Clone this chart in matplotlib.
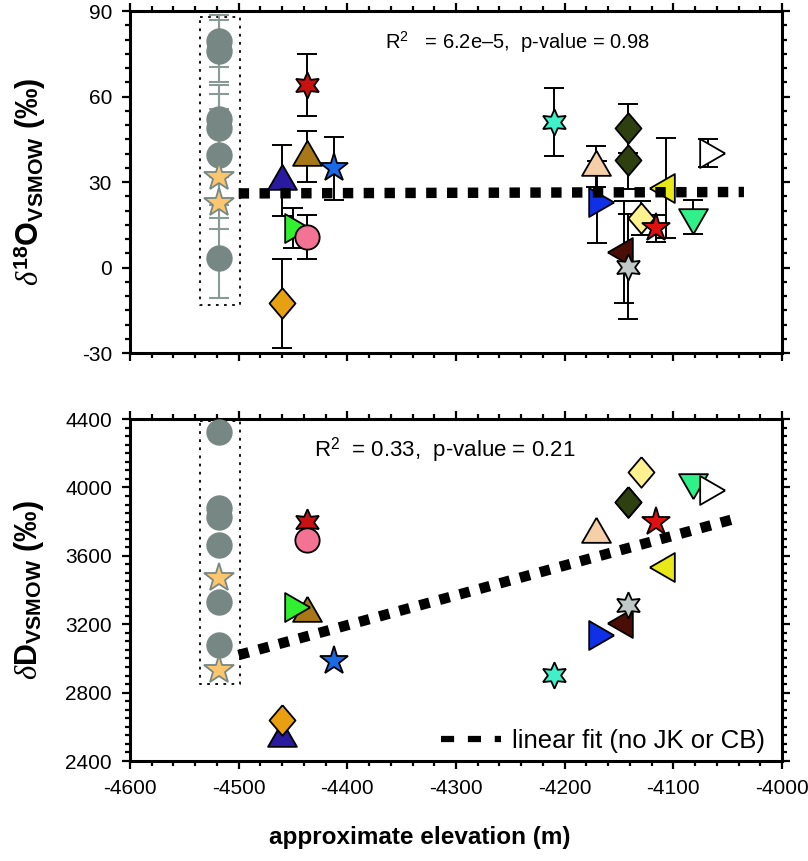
import numpy as np
import matplotlib
matplotlib.use("Agg")
import matplotlib.pyplot as plt
from matplotlib.ticker import MultipleLocator
from matplotlib.lines import Line2D

plt.rcParams['font.family'] = ['Liberation Sans', 'DejaVu Sans']
plt.rcParams['mathtext.fontset'] = 'custom'
plt.rcParams['mathtext.rm'] = 'Liberation Sans'
plt.rcParams['mathtext.bf'] = 'Liberation Sans:bold'
plt.rcParams['mathtext.it'] = 'Liberation Serif:italic'
plt.rcParams['axes.unicode_minus'] = False

# grey group (JK / CB) at one elevation
grey_x = -4518
grey_circ_o = [79.5, 76.0, 52.0, 49.0, 39.5, 3.3]
grey_circ_oerr = [9, 11, 12, 12, 16, 14]
grey_circ_d = [4326, 3878, 3829, 3663, 3332, 3078]
grey_star_o = [31.8, 22.6]
grey_star_oerr = [10, 9]
grey_star_d = [3468, 2932]

# coloured samples
elev = [-4437, -4437, -4460, -4412, -4450, -4437, -4460, -4210, -4171, -4170,
        -4142, -4142, -4130, -4116, -4145, -4142, -4107, -4082, -4068]
d18o = [64.0, 38.9, 30.5, 34.8, 14.0, 10.8, -12.6, 51.0, 35.4, 23.0,
        48.8, 37.7, 17.3, 13.7, 5.5, 0.3, 27.8, 17.8, 40.1]
d18o_err = [11, 9, 12.5, 11, 7, 7.7, 15.5, 12, 7.3, 14.3,
            8.6, 10, 6, 4.7, 18, 18.4, 17.5, 6, 5]
dD = [3800, 3264, 2533, 2987, 3302, 3692, 2640, 2903, 3727, 3137,
      3916, 3912, 4092, 3800, 3205, 3312, 3536, 4033, 3985]
colors = ['#c81212', '#a87818', '#2a1aa0', '#1a6ae8', '#30f030', '#f27394', '#e8a010',
          '#40f0c8', '#f5cfa8', '#1030e8', '#2e4010', '#2e4010', '#fff090', '#e01010',
          '#4a0e06', '#c0c8c8', '#e8e818', '#30f08a', '#ffffff']
kinds = ['hex', 'up', 'up', 'star', 'right', 'circ', 'dia', 'hex', 'up', 'right',
         'dia', 'dia', 'dia', 'star', 'left', 'hex', 'left', 'down', 'right']

# fit lines
fit_x = [-4500, -4035]
fit_o = [26.0, 26.5]
fit_xd = [-4500, -4041]
fit_d = [3020, 3821]

marker_defs = {
    'up': ([(0, 1), (-0.866, -0.5), (0.866, -0.5), (0, 1)], 24),
    'down': ([(0, -1), (-0.866, 0.5), (0.866, 0.5), (0, -1)], 24),
    'right': ([(1, 0), (-0.5, 0.866), (-0.5, -0.866), (1, 0)], 24),
    'left': ([(-1, 0), (0.5, 0.866), (0.5, -0.866), (-1, 0)], 24),
    'dia': ([(0, 1), (0.85, 0), (0, -1), (-0.85, 0), (0, 1)], 22),
    'star': ('*', 21),
    'hex': ((6, 1, 0), 19),
    'circ': ('o', 17.5),
}

grey = '#768784'
grey_err = '#8a9a97'
star_fill = '#fcc66e'

fig = plt.figure(figsize=(8.08, 8.61), dpi=100)
ax1 = fig.add_axes([0.1609, 0.590, 0.8069, 0.3972])
ax2 = fig.add_axes([0.1609, 0.1161, 0.8069, 0.3972])

for ax in (ax1, ax2):
    ax.set_xlim(-4600, -4000)
    ax.xaxis.set_major_locator(MultipleLocator(100))
    ax.xaxis.set_minor_locator(MultipleLocator(20))
    ax.tick_params(which='both', direction='out', top=True, right=True,
                   labelsize=15, width=1.6, pad=7)
    ax.tick_params(which='major', length=6)
    ax.tick_params(which='minor', length=3.5)
    for s in ax.spines.values():
        s.set_linewidth(2.2)

# dotted boxes around JK / CB group
ax1.plot([-4536, -4499, -4499, -4536, -4536], [88, 88, -13, -13, 88],
         ls=(0, (1.5, 3)), color='k', lw=1.3, zorder=1)
ax2.plot([-4536, -4499, -4499, -4536, -4536], [4390, 4390, 2850, 2850, 4390],
         ls=(0, (1.5, 3)), color='k', lw=1.3, zorder=1)

# top panel: d18O
ax1.set_ylim(-30, 90)
ax1.yaxis.set_major_locator(MultipleLocator(30))
ax1.yaxis.set_minor_locator(MultipleLocator(5))
ax1.tick_params(labelbottom=False)

ax1.errorbar([grey_x] * len(grey_circ_o), grey_circ_o, yerr=grey_circ_oerr, fmt='none',
             ecolor=grey_err, elinewidth=1.5, capsize=7, capthick=1.5, zorder=2)
ax1.errorbar([grey_x] * len(grey_star_o), grey_star_o, yerr=grey_star_oerr, fmt='none',
             ecolor=grey_err, elinewidth=1.5, capsize=7, capthick=1.5, zorder=2)
ax1.plot([grey_x] * len(grey_circ_o), grey_circ_o, 'o', ms=18, color=grey, mec=grey, zorder=3)
ax1.plot([grey_x] * len(grey_star_o), grey_star_o, '*', ms=22, mfc=star_fill, mec=grey,
         mew=1.3, zorder=3)

ax1.errorbar(elev, d18o, yerr=d18o_err, fmt='none', ecolor='k', elinewidth=1.4,
             capsize=7, capthick=1.4, zorder=2)
for x, o, d, c, k in zip(elev, d18o, dD, colors, kinds):
    m, ms = marker_defs[k]
    ax1.plot(x, o, marker=m, ms=ms, mfc=c, mec='k', mew=1.3, ls='none', zorder=3)
    ax2.plot(x, d, marker=m, ms=ms, mfc=c, mec='k', mew=1.3, ls='none', zorder=3)

ax1.plot(fit_x, fit_o, color='k', lw=7.5, dashes=(1.0, 1.0), zorder=5)
ax1.text(-4365, 79, 'R$^2$   = 6.2e\u20135,  p-value = 0.98', fontsize=14.5,
         ha='left', va='center')
ax1.set_ylabel(r'$\delta^{\mathbf{18}}\mathbf{O}_{\mathbf{VSMOW}}$ $\mathbf{(‰)}$',
               fontsize=22, labelpad=24)

# bottom panel: dD
ax2.set_ylim(2400, 4400)
ax2.yaxis.set_major_locator(MultipleLocator(400))
ax2.yaxis.set_minor_locator(MultipleLocator(50))
ax2.plot([grey_x] * len(grey_circ_d), grey_circ_d, 'o', ms=18, color=grey, mec=grey, zorder=3)
ax2.plot([grey_x] * len(grey_star_d), grey_star_d, '*', ms=22, mfc=star_fill, mec=grey,
         mew=1.3, zorder=3)
ax2.plot(fit_xd, fit_d, color='k', lw=7.5, dashes=(1.0, 1.0), zorder=5)
ax2.text(-4431, 4219, 'R$^2$  = 0.33,  p-value = 0.21', fontsize=16,
         ha='left', va='center')
ax2.set_ylabel(r'$\delta\mathbf{D}_{\mathbf{VSMOW}}$ $\mathbf{(‰)}$', fontsize=22, labelpad=14)
ax2.set_xlabel('approximate elevation (m)', fontsize=17.5, fontweight='bold', labelpad=20)
ax2.xaxis.label.set_x(0.445)

h = Line2D([], [], color='k', lw=4.5, dashes=(2.1, 2.2))
ax2.legend([h], ['linear fit (no JK or CB)'], loc='lower right', frameon=False,
           fontsize=18.5, handlelength=2.33, handletextpad=0.42, borderaxespad=0.0,
           borderpad=0.3, bbox_to_anchor=(0.986, 0.0))

fig.savefig('out.png', dpi=100)
